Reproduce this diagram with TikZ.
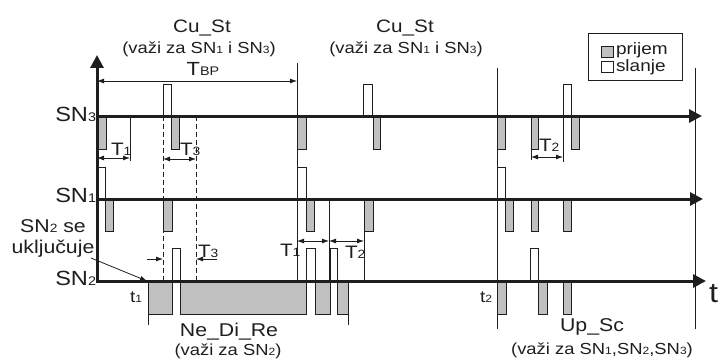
\documentclass[tikz,border=0pt]{standalone}
\usepackage{fontspec}
\setmainfont{Liberation Sans}[FakeStretch=1.15]
\usetikzlibrary{arrows.meta}
\definecolor{pr}{RGB}{192,192,192}
\definecolor{ln}{RGB}{30,30,30}
\newcommand\fs[2]{{\fontsize{#1}{#1}\selectfont #2}}
\begin{document}
\begin{tikzpicture}[x=1pt,y=-1pt,
  axis/.style={line width=3pt,draw=ln},
  axarrow/.style={axis,-{Triangle[length=13pt,width=13pt]}},
  recv/.style={fill=pr,draw=ln,line width=0.8pt},
  send/.style={fill=white,draw=ln,line width=0.8pt},
  thinline/.style={line width=0.8pt,draw=ln},
  dim/.style={line width=0.8pt,draw=ln,{Latex[length=7pt,width=5pt]}-{Latex[length=7pt,width=5pt]}},
  dimr/.style={line width=0.8pt,draw=ln,-{Latex[length=7pt,width=5pt]}},
  dashln/.style={line width=0.8pt,draw=ln,dash pattern=on 5pt off 3pt},
  lbl/.style={inner sep=0pt,outer sep=0pt,text=ln}
]
\useasboundingbox (0,0) rectangle (728,361);

% ---- SN3 pulses (line y=116)
\foreach \a/\b in {97/106,171/179,297/306,373/380,497/505,531/538,571/579}
  \draw[recv] (\a,116) rectangle (\b,149);
\foreach \a/\b in {163/171,363/372,563/571}
  \draw[send] (\a,84) rectangle (\b,116);
% ---- SN1 pulses (line y=199)
\foreach \a/\b in {105/113,163/172,306/314,364/373,505/513,531/538,563/571}
  \draw[recv] (\a,199) rectangle (\b,231);
\foreach \a/\b in {97/105,297/306,497/505}
  \draw[send] (\a,167) rectangle (\b,199);
% ---- SN2 pulses (line y=281)
\foreach \a/\b in {148/172,180/306,315/330,337/348,497/506,538/547,563/571}
  \draw[recv] (\a,281) rectangle (\b,314);
\foreach \a/\b in {172/180,306/315,330/337,530/538}
  \draw[send] (\a,248) rectangle (\b,281);

% ---- thin lines
\draw[thinline] (297,63) -- (297,281);
\draw[thinline] (497,68) -- (497,329);
\draw[thinline] (695,68) -- (695,329);
\draw[thinline] (148,281) -- (148,325);
\draw[thinline] (348,281) -- (348,325);
\draw[thinline] (130,116) -- (130,161);
\draw[thinline] (329,199) -- (329,281);
\draw[thinline] (364,231) -- (364,281);
\draw[thinline] (563,116) -- (563,162);
\draw[thinline] (531,149) -- (531,160);
\draw[dashln] (163,116) -- (163,281);
\draw[dashln] (196,116) -- (196,281);

% ---- axes
\draw[axarrow] (97,282.5) -- (97,55);
\draw[axarrow] (97,116) -- (702,116);
\draw[axarrow] (97,199) -- (703,199);
\draw[axarrow] (97,281) -- (706,281);

% ---- dimension arrows
\draw[dim] (97,81) -- (297,81);
\draw[dim] (97,158) -- (130,158);
\draw[dim] (163,159) -- (196,159);
\draw[dim] (531,157) -- (563,157);
\draw[dim] (297,241) -- (329,241);
\draw[dim] (329,241) -- (364,241);
\draw[dimr] (147,259) -- (163,259);
\draw[dimr] (217,259) -- (196,259);

% ---- legend
\draw[thinline,fill=white] (588,33) rectangle (682,80);
\draw[recv] (601,46) rectangle (613,57);
\draw[send] (601,61) rectangle (613,72);
\node[lbl,anchor=base west] (lp) at (616,55) {\fs{16.5}{prijem}};
\node[lbl,anchor=base west] (ls) at (616,71.5) {\fs{16.5}{slanje}};

% ---- texts
\node[lbl,anchor=base] (cu1) at (202,33) {\fs{18}{Cu\_St}};
\node[lbl,anchor=base] (cu1p) at (199,54) {\fs{16}{(važi za SN\fs{10.5}{1} i SN\fs{10.5}{3})}};
\node[lbl,anchor=base] (cu2) at (405,33) {\fs{18}{Cu\_St}};
\node[lbl,anchor=base] (cu2p) at (406,54) {\fs{16}{(važi za SN\fs{10.5}{1} i SN\fs{10.5}{3})}};
\node[lbl,anchor=base] (tbp) at (203,76) {\fs{19}{T\fs{12.5}{BP}}};
\node[lbl,anchor=base east] (sn3) at (96,121) {\fs{20.5}{SN\fs{12.5}{3}}};
\node[lbl,anchor=base east] (sn1) at (96,202) {\fs{20.5}{SN\fs{12.5}{1}}};
\node[lbl,anchor=base east] (sn2) at (96,285) {\fs{20.5}{SN\fs{12.5}{2}}};
\node[lbl,anchor=base] (sn2a) at (53,232) {\fs{18.5}{SN\fs{12}{2} se}};
\node[lbl,anchor=base] (sn2b) at (53,253) {\fs{18.5}{uključuje}};
\coordinate (pst) at (91,258);
\coordinate (pen) at (147,281);
\draw[dimr] (pst) -- (pen);
\node[lbl,anchor=base west] (t1a) at (111,155) {\fs{18}{T\fs{12}{1}}};
\node[lbl,anchor=base west] (t3a) at (180,155) {\fs{18}{T\fs{12}{3}}};
\node[lbl,anchor=base west] (t3b) at (198,257) {\fs{18}{T\fs{12}{3}}};
\node[lbl,anchor=base west] (t1b) at (280,256) {\fs{18}{T\fs{12}{1}}};
\node[lbl,anchor=base west] (t2b) at (345,258) {\fs{18}{T\fs{12}{2}}};
\node[lbl,anchor=base west] (t2a) at (539,151) {\fs{18}{T\fs{12}{2}}};
\node[lbl,anchor=base west] (tt1) at (130,302) {\fs{16.5}{t\fs{10.5}{1}}};
\node[lbl,anchor=base west] (tt2) at (480,302) {\fs{16.5}{t\fs{10.5}{2}}};
\node[lbl,anchor=base west] (tt) at (709,302) {\fs{28}{t}};
\node[lbl,anchor=base] (ndr) at (229,336) {\fs{18.5}{Ne\_Di\_Re}};
\node[lbl,anchor=base] (ndrp) at (228,355) {\fs{16}{(važi za SN\fs{10.5}{2})}};
\node[lbl,anchor=base] (usc) at (592,331) {\fs{18.5}{Up\_Sc}};
\node[lbl,anchor=base] (uscp) at (602,354) {\fs{16}{(važi za SN\fs{10.5}{1},SN\fs{10.5}{2},SN\fs{10.5}{3})}};
\end{tikzpicture}
\end{document}
